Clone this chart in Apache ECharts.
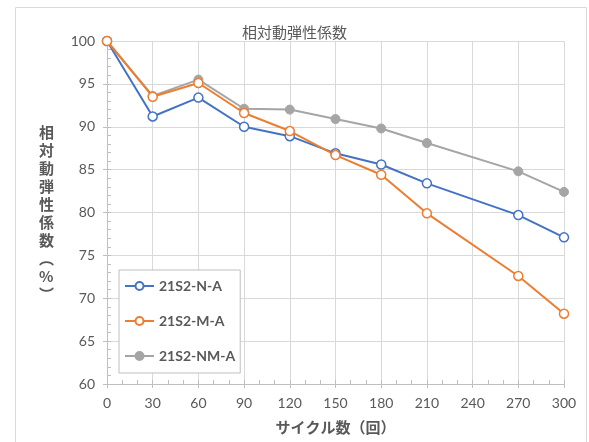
<!DOCTYPE html>
<html><head><meta charset="utf-8">
<script src="https://cdn.jsdelivr.net/npm/echarts@6/dist/echarts.min.js"></script>
<style>html,body{margin:0;padding:0;background:#fff}#c{width:589px;height:442px}</style>
</head><body><div id="c"></div>
<script>
var cycles = [0, 30, 60, 90, 120, 150, 180, 210, 270, 300];
var seriesNames = ['21S2-N-A', '21S2-M-A', '21S2-NM-A'];
var valuesNA = [100, 91.2, 93.4, 90.0, 88.9, 86.9, 85.6, 83.4, 79.7, 77.1];
var valuesMA = [100, 93.5, 95.1, 91.6, 89.5, 86.7, 84.4, 79.9, 72.6, 68.2];
var valuesNMA = [100, 93.6, 95.5, 92.1, 92.0, 90.9, 89.8, 88.1, 84.8, 82.4];
var titleText = '相対動弾性係数';
var xName = 'サイクル数（回）';
var yName = '相対動弾性係数︵%︶';

function pairs(v){ return cycles.map(function(c,i){ return [c, v[i]]; }); }
var FONT = 'Lato, "Noto Sans CJK JP", sans-serif';
var TXT = '#595959';
var chart = echarts.init(document.getElementById('c'));
var axisBase = {
  axisLine: {show: true, lineStyle: {color: '#BFBFBF', width: 1}},
  splitLine: {show: true, lineStyle: {color: '#D9D9D9', width: 1}}
};
chart.setOption({
  animation: false,
  textStyle: {fontFamily: FONT},
  title: {text: titleText, left: 'center', top: 20, textStyle: {color: TXT, fontSize: 15, fontWeight: 'normal', fontFamily: '"Noto Sans CJK JP", sans-serif'}},
  graphic: [
    {type: 'rect', shape: {x: 15.5, y: 7.5, width: 571, height: 440}, style: {fill: 'none', stroke: '#D9D9D9', lineWidth: 1}, silent: true},
    {type: 'text', left: 39, top: 123, style: {text: yName.split('').join('\n'), fill: TXT, fontSize: 15, fontWeight: 'bold', lineHeight: 18, fontFamily: '"Noto Sans CJK JP", sans-serif', align: 'center'}}
  ],
  legend: {
    orient: 'vertical', left: 119, top: 270,
    padding: [9, 5, 10, 5], itemGap: 21, itemWidth: 29, itemHeight: 10,
    borderColor: '#BFBFBF', borderWidth: 1, backgroundColor: '#fff',
    textStyle: {color: TXT, fontSize: 14, fontWeight: 'bold', fontFamily: FONT},
    data: seriesNames
  },
  grid: {left: 107, right: 25, top: 41, bottom: 58},
  xAxis: [
    Object.assign({}, axisBase, {
      type: 'value', min: 0, max: 300, interval: 30,
      axisTick: {show: true, inside: true, length: 4, lineStyle: {color: '#BFBFBF'}},
      minorTick: {show: true, splitNumber: 3, length: 4, lineStyle: {color: '#BFBFBF'}},
      axisLabel: {color: TXT, fontSize: 14, fontFamily: FONT, margin: 12},
      name: xName, nameLocation: 'middle', nameGap: 36,
      nameTextStyle: {color: TXT, fontSize: 15, fontWeight: 'bold', fontFamily: '"Noto Sans CJK JP", sans-serif'}
    }),
    {type: 'value', min: 0, max: 300, interval: 30, position: 'bottom',
      axisLine: {show: false}, splitLine: {show: false}, axisLabel: {show: false},
      axisTick: {show: true, length: 4, lineStyle: {color: '#BFBFBF'}}}
  ],
  yAxis: [
    Object.assign({}, axisBase, {
      type: 'value', min: 60, max: 100, interval: 5,
      axisTick: {show: true, inside: true, length: 4, lineStyle: {color: '#BFBFBF'}},
      minorTick: {show: true, splitNumber: 5, length: 4, lineStyle: {color: '#BFBFBF'}},
      axisLabel: {color: TXT, fontSize: 14, fontFamily: FONT, margin: 12}
    }),
    {type: 'value', min: 60, max: 100, interval: 5, position: 'left',
      axisLine: {show: false}, splitLine: {show: false}, axisLabel: {show: false},
      axisTick: {show: true, length: 4, lineStyle: {color: '#BFBFBF'}}}
  ],
  series: [
    {name: seriesNames[0], type: 'line', data: pairs(valuesNA), symbol: 'circle', symbolSize: 9,
      lineStyle: {color: '#4472C4', width: 2}, itemStyle: {color: '#FFFFFF', borderColor: '#4472C4', borderWidth: 1.5}, color: '#4472C4', z: 3},
    {name: seriesNames[1], type: 'line', data: pairs(valuesMA), symbol: 'circle', symbolSize: 9,
      lineStyle: {color: '#ED7D31', width: 2}, itemStyle: {color: '#FFFFFF', borderColor: '#ED7D31', borderWidth: 1.5}, color: '#ED7D31', z: 4},
    {name: seriesNames[2], type: 'line', data: pairs(valuesNMA), symbol: 'circle', symbolSize: 9,
      lineStyle: {color: '#A5A5A5', width: 2}, itemStyle: {color: '#A5A5A5', borderColor: '#A5A5A5', borderWidth: 1}, color: '#A5A5A5', z: 2}
  ]
});
</script></body></html>
